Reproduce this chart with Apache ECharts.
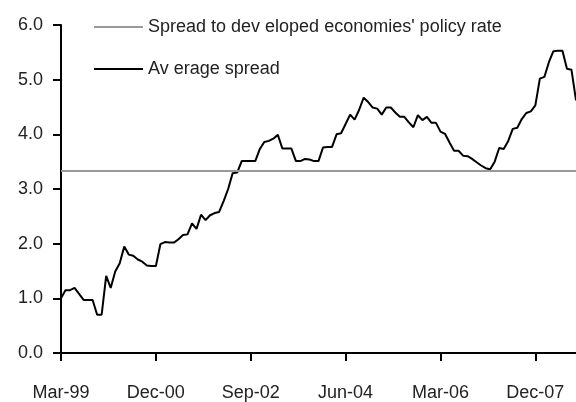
<!DOCTYPE html>
<html>
<head>
<meta charset="utf-8">
<style>
  html, body { margin: 0; padding: 0; background: #fff; }
  #main { width: 576px; height: 402px; }
</style>
<script src="https://cdn.jsdelivr.net/npm/echarts@6/dist/echarts.min.js"></script>
</head>
<body>
<div id="main"></div>
<script>
// months Mar-99 .. Sep-08
var monthNames = ["Jan", "Feb", "Mar", "Apr", "May", "Jun", "Jul", "Aug", "Sep", "Oct", "Nov", "Dec"];
var months = [];
for (var k = 0; k < 115; k++) {
  var m = (2 + k) % 12;
  var yr = (99 + Math.floor((2 + k) / 12)) % 100;
  months.push(monthNames[m] + "-" + (yr < 10 ? "0" + yr : "" + yr));
}

var averageSpread = [
  1.00, 1.15, 1.15, 1.19, 1.08, 0.97, 0.97, 0.97, 0.70, 0.70,
  1.41, 1.19, 1.49, 1.64, 1.95, 1.80, 1.78, 1.71, 1.67, 1.60,
  1.59, 1.59, 1.99, 2.03, 2.02, 2.02, 2.08, 2.16, 2.17, 2.37,
  2.27, 2.53, 2.43, 2.52, 2.56, 2.58, 2.78, 3.00, 3.29, 3.30,
  3.51, 3.51, 3.51, 3.51, 3.73, 3.86, 3.88, 3.92, 3.99, 3.74,
  3.74, 3.74, 3.51, 3.51, 3.55, 3.54, 3.51, 3.51, 3.76, 3.77,
  3.77, 4.00, 4.02, 4.19, 4.36, 4.27, 4.45, 4.67, 4.59, 4.49,
  4.47, 4.36, 4.49, 4.49, 4.40, 4.32, 4.32, 4.22, 4.13, 4.35,
  4.26, 4.32, 4.21, 4.21, 4.05, 4.01, 3.85, 3.70, 3.70, 3.61,
  3.60, 3.55, 3.49, 3.43, 3.38, 3.36, 3.50, 3.75, 3.73, 3.88,
  4.10, 4.12, 4.28, 4.39, 4.42, 4.53, 5.02, 5.05, 5.32, 5.52,
  5.53, 5.53, 5.20, 5.18, 4.62
];

var policyRateSpread = 3.33;

var policyName = "Spread to dev eloped economies' policy rate";
var averageName = "Av erage spread";

var txt = "#222";
var font = "Liberation Sans";

var myChart = echarts.init(document.getElementById("main"));
myChart.setOption({
  animation: false,
  backgroundColor: "#fff",
  textStyle: { fontFamily: font },
  grid: { left: 61, right: 0, top: 25, bottom: 47, containLabel: false },
  legend: {
    orient: "vertical",
    left: 94,
    top: 18,
    padding: 0,
    itemWidth: 49,
    itemHeight: 2,
    itemGap: 24,
    icon: "rect",
    textStyle: { color: txt, fontSize: 18, fontFamily: font },
    data: [policyName, averageName]
  },
  xAxis: {
    type: "category",
    boundaryGap: false,
    data: months,
    axisLine: { lineStyle: { color: "#000", width: 2 } },
    axisTick: { interval: 20, length: 8, inside: false, lineStyle: { color: "#000", width: 2 } },
    axisLabel: { interval: 20, margin: 31, color: txt, fontSize: 18, fontFamily: font },
    splitLine: { show: false }
  },
  yAxis: {
    type: "value",
    min: 0,
    max: 6,
    interval: 1,
    axisLine: { show: true, lineStyle: { color: "#000", width: 2 } },
    axisTick: { show: true, length: 8, lineStyle: { color: "#000", width: 2 } },
    axisLabel: {
      margin: 18,
      color: txt,
      fontSize: 18,
      fontFamily: font,
      formatter: function (v) { return v.toFixed(1); }
    },
    splitLine: { show: false }
  },
  series: [
    {
      name: policyName,
      type: "line",
      data: [],
      itemStyle: { color: "#999" },
      lineStyle: { color: "#999", width: 2 },
      markLine: {
        silent: true,
        symbol: "none",
        label: { show: false },
        lineStyle: { color: "#999", width: 2, type: "solid" },
        data: [{ yAxis: policyRateSpread }]
      }
    },
    {
      name: averageName,
      type: "line",
      data: averageSpread,
      showSymbol: false,
      itemStyle: { color: "#000" },
      lineStyle: { color: "#000", width: 2 },
      z: 3
    }
  ]
});
</script>
</body>
</html>
